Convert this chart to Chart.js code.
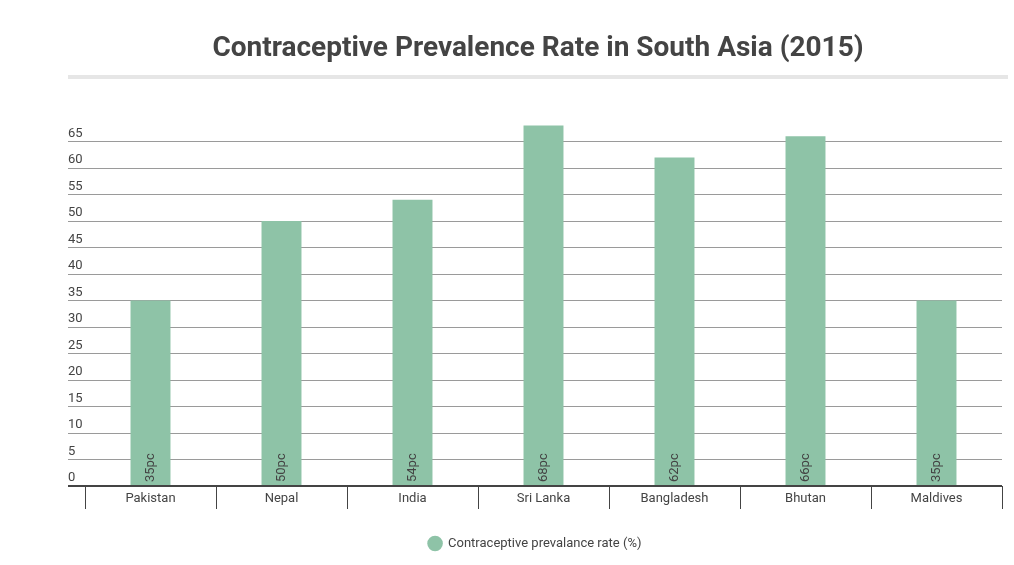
<!DOCTYPE html>
<html>
<head>
<meta charset="utf-8">
<script src="https://cdn.jsdelivr.net/npm/chart.js@4.4.1/dist/chart.umd.min.js"></script>
<style>
    html, body { margin: 0; padding: 0; background: #fff; }
    #wrap { position: relative; width: 1014px; height: 565px; }
    #titulo {
        position: absolute; left: 68px; top: 29px; width: 940px;
        text-align: center; font: bold 28px Roboto, sans-serif; color: #444;
        line-height: 36px;
    }
    #riga { position: absolute; left: 68px; top: 75px; width: 940px; height: 4px; background: #e6e6e6; }
    canvas { position: absolute; left: 0; top: 0; }
</style>
</head>
<body>
<div id="wrap">
    <canvas id="cprChart" width="1014" height="565"></canvas>
    <div id="titulo">Contraceptive Prevalence Rate in South Asia (2015)</div>
    <div id="riga"></div>
</div>
<script>
const paesi = ['Pakistan', 'Nepal', 'India', 'Sri Lanka', 'Bangladesh', 'Bhutan', 'Maldives'];
const valori = [35, 50, 54, 68, 62, 66, 35];
const etichette = ['35pc', '50pc', '54pc', '68pc', '62pc', '66pc', '35pc'];
const tickY = [0, 5, 10, 15, 20, 25, 30, 35, 40, 45, 50, 55, 60, 65];

const testoScuro = '#444444';
const verde = '#8ec3a7';

// scritte ruotate dentro le barre
const etichetteBarre = {
    id: 'etichetteBarre',
    afterDatasetsDraw(chart) {
        const ctx = chart.ctx;
        const meta = chart.getDatasetMeta(0);
        ctx.save();
        ctx.font = '13px Roboto, sans-serif';
        ctx.fillStyle = testoScuro;
        ctx.textAlign = 'left';
        ctx.textBaseline = 'middle';
        meta.data.forEach(function(bar, i) {
            ctx.save();
            ctx.translate(bar.x, bar.base - 3);
            ctx.rotate(-Math.PI / 2);
            ctx.fillText(etichette[i], 0, 0);
            ctx.restore();
        });
        ctx.restore();
    }
};

document.addEventListener('DOMContentLoaded', function() {
    const ctx = document.getElementById('cprChart').getContext('2d');
    new Chart(ctx, {
        type: 'bar',
        data: {
            labels: paesi,
            datasets: [{
                label: 'Contraceptive prevalance rate (%)',
                data: valori,
                backgroundColor: verde,
                borderColor: verde,
                borderWidth: 0,
                barPercentage: 0.305,
                categoryPercentage: 1
            }]
        },
        options: {
            responsive: false,
            animation: false,
            layout: {
                padding: { left: 68, right: 12, top: 115, bottom: 5 }
            },
            scales: {
                x: {
                    border: { display: false },
                    afterFit: function(scale) { scale.height = 42; },
                    grid: {
                        display: true,
                        drawOnChartArea: false,
                        drawTicks: true,
                        tickLength: 23,
                        offset: true,
                        color: testoScuro,
                        lineWidth: 1
                    },
                    ticks: {
                        padding: -18,
                        color: testoScuro,
                        font: { family: 'Roboto', size: 13 }
                    }
                },
                y: {
                    min: 0,
                    max: 70,
                    border: { display: false },
                    afterFit: function(scale) { scale.width = 17; },
                    afterBuildTicks: function(scale) {
                        scale.ticks = tickY.map(v => ({ value: v }));
                    },
                    grid: {
                        tickLength: 17,
                        color: c => c.tick && c.tick.value === 0 ? testoScuro : '#9a9a9a',
                        lineWidth: c => c.tick && c.tick.value === 0 ? 2 : 1
                    },
                    ticks: {
                        crossAlign: 'far',
                        labelOffset: -8,
                        padding: 0,
                        color: testoScuro,
                        font: { family: 'Roboto', size: 13 }
                    }
                }
            },
            plugins: {
                legend: {
                    position: 'bottom',
                    labels: {
                        usePointStyle: true,
                        pointStyle: 'circle',
                        boxHeight: 11,
                        color: testoScuro,
                        padding: 9,
                        font: { family: 'Roboto', size: 13 }
                    }
                },
                tooltip: { enabled: false }
            }
        },
        plugins: [etichetteBarre]
    });
});
</script>
</body>
</html>
